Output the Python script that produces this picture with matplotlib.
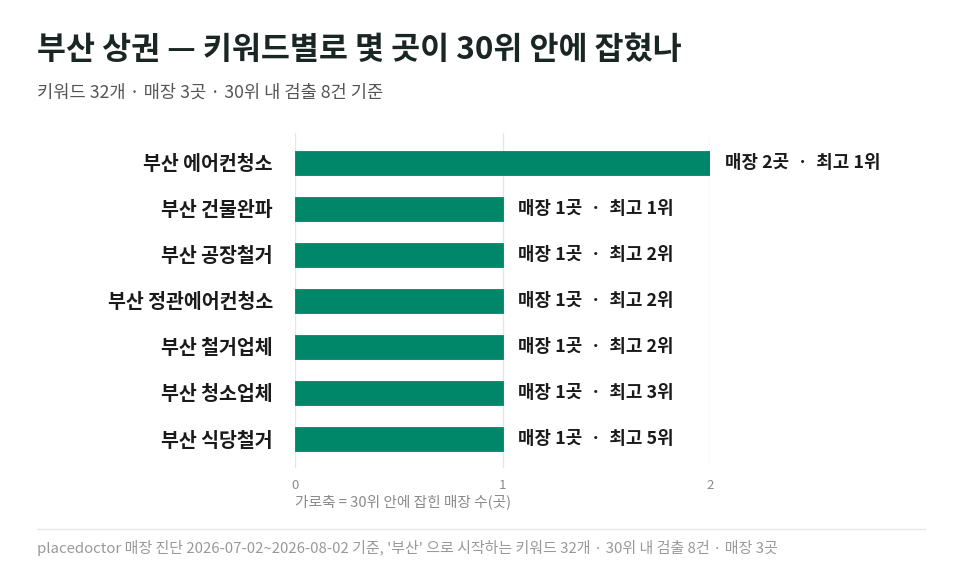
import matplotlib
matplotlib.use('Agg')
import matplotlib.pyplot as plt
from matplotlib.transforms import offset_copy

plt.rcParams['font.family'] = ['Noto Sans CJK KR', 'DejaVu Sans']

# 데이터
keywords = ['부산 에어컨청소', '부산 건물완파', '부산 공장철거', '부산 정관에어컨청소',
            '부산 철거업체', '부산 청소업체', '부산 식당철거']
store_counts = [2, 1, 1, 1, 1, 1, 1]
best_ranks = [1, 1, 2, 2, 2, 3, 5]
x_ticks = [0, 1, 2]

title = '부산 상권 — 키워드별로 몇 곳이 30위 안에 잡혔나'
subtitle = '키워드 32개 · 매장 3곳 · 30위 내 검출 8건 기준'
xlabel = '가로축 = 30위 안에 잡힌 매장 수(곳)'
footer = "placedoctor 매장 진단 2026-07-02~2026-08-02 기준, '부산' 으로 시작하는 키워드 32개 · 30위 내 검출 8건 · 매장 3곳"

W, H = 960, 577
fig = plt.figure(figsize=(W / 100, H / 100), dpi=100)
ax = fig.add_axes([295 / W, 1 - 468 / H, (710 - 295) / W, (468 - 133) / H])

bar_color = '#00876a'
ypos = list(range(len(keywords)))
ax.barh(ypos, store_counts, height=0.52, color=bar_color, edgecolor=bar_color,
        linewidth=0.6, joinstyle='round', zorder=3)

ax.set_xlim(0, 2)
ax.set_ylim(6.63, -0.65)
ax.set_xticks(x_ticks)
ax.set_xticklabels([str(t) for t in x_ticks])
ax.tick_params(axis='x', length=0, pad=8, labelsize=9.5, labelcolor='#8a8a8a')
ax.set_yticks(ypos)
ax.set_yticklabels(keywords, fontsize=14, fontweight='bold', color='#1a1a1a')
ax.tick_params(axis='y', length=0, pad=16)
ax.grid(axis='x', color='#e3e6e6', linewidth=1, zorder=0)
for s in ax.spines.values():
    s.set_visible(False)

# 값 레이블
trans = offset_copy(ax.transData, fig=fig, x=15, y=0, units='dots')
for y, c, r in zip(ypos, store_counts, best_ranks):
    ax.text(c, y, f'매장 {c}곳  ·  최고 {r}위', transform=trans, ha='left', va='center',
            fontsize=12.9, fontweight='bold', color='#1a1a1a')

fig.text(295 / W, 1 - 502 / H, xlabel, ha='left', va='center', fontsize=10.6, color='#8a8a8a')

fig.text(37 / W, 1 - 50 / H, title, ha='left', va='center', fontsize=22.7,
         fontweight='bold', color='#1a2624')
fig.text(37 / W, 1 - 93 / H, subtitle, ha='left', va='center', fontsize=12.7, color='#555555')

fig.add_artist(plt.Line2D([37 / W, 925 / W], [1 - 529 / H, 1 - 529 / H], color='#e6e6e6', linewidth=1))
fig.text(37 / W, 1 - 548 / H, footer, ha='left', va='center', fontsize=10.8, color='#999999')

fig.savefig('out.png', dpi=100, facecolor='white')
